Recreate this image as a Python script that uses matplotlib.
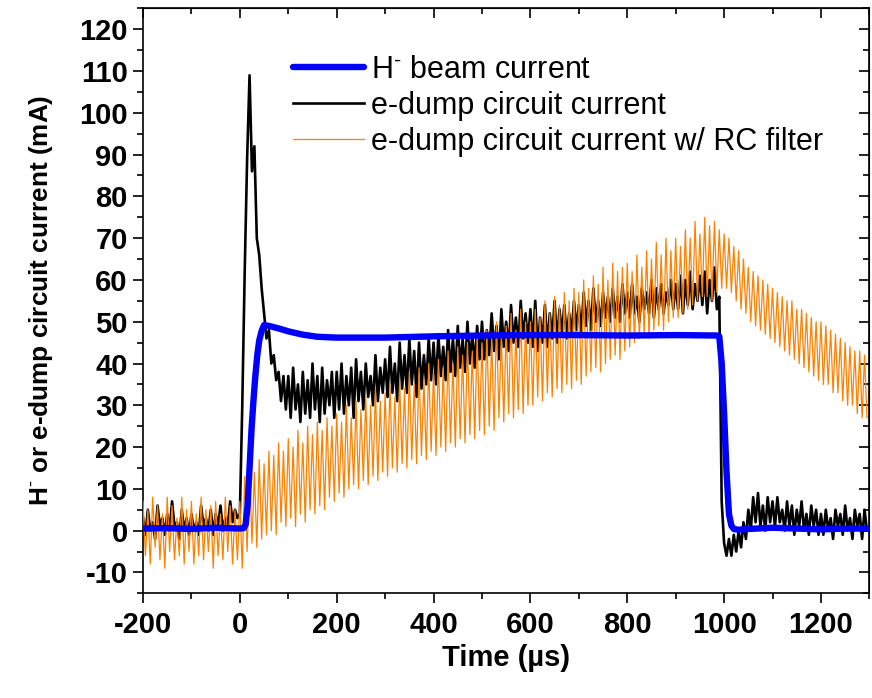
import numpy as np
import matplotlib
matplotlib.use("Agg")
import matplotlib.pyplot as plt
from matplotlib.ticker import MultipleLocator
from matplotlib.lines import Line2D
from matplotlib.font_manager import FontProperties

plt.rcParams["font.family"] = ["Liberation Sans", "DejaVu Sans"]
plt.rcParams["mathtext.fontset"] = "custom"
plt.rcParams["mathtext.rm"] = "Liberation Sans"
plt.rcParams["mathtext.bf"] = "Liberation Sans:bold"
plt.rcParams["axes.unicode_minus"] = False

# ---------------- data ----------------
# H- beam current (mA) vs time (us)
beam_time = [-200, -150, -100, -50, 0, 8, 12, 16, 20, 24, 28, 32, 36, 40, 45, 50,
             60, 80, 100, 130, 160, 200, 250, 300, 400, 500, 600, 700, 800, 900,
             985, 990, 995, 1000, 1005, 1010, 1015, 1020, 1030, 1050, 1100, 1150,
             1200, 1250, 1300]
beam_current = [0.5, 0.6, 0.4, 0.7, 0.5, 0.6, 1.5, 6, 15, 24, 31, 37, 42, 45.5, 47.8, 49.2,
                49.0, 48.4, 47.7, 46.9, 46.4, 46.2, 46.2, 46.2, 46.5, 46.7, 46.8, 46.8, 46.7, 46.8,
                46.7, 46.5, 40, 28, 14, 4, 1.2, 0.4, 0.2, 0.4, 0.7, 0.5,
                0.3, 0.5, 0.5]

# oscilloscope traces sampled every 5 us from -200 us
trace_start, trace_step = -200, 5

# e-dump circuit current (mA)
edump = (
    [3, -1, 5, 0, 2, -2, 6, 1, 3, -1, 4, 0, 7, 1, 2, -2, 5, 0, 3, -1] +
    [4, 0, 2, -1, 6, 1, 3, 0, 5, -1, 4, 1, 6, 0, 3, 1, 7, 2, 5, 3] +
    [4, 30, 62, 89, 109, 86, 92, 70, 66, 58, 52, 46, 48, 40, 42, 36, 38, 31, 37, 29] +
    [37, 27, 39, 29, 35, 26, 38, 28, 36, 27, 40, 29, 37, 26, 39, 28, 36, 30, 38, 27] +
    [38, 29, 40, 28, 37, 30, 39, 27, 41, 31, 38, 29, 40, 32, 37, 30, 42, 31, 39, 33] +
    [41, 32, 44, 33, 40, 31, 45, 34, 42, 33, 46, 35, 43, 32, 45, 34, 42, 35, 46, 36] +
    [45, 35, 47, 37, 44, 36, 48, 38, 46, 37, 49, 39, 46, 38, 50, 40, 47, 39, 49, 41] +
    [50, 41, 48, 42, 52, 43, 49, 41, 53, 44, 50, 43, 54, 45, 51, 44, 55, 46, 52, 45] +
    [53, 44, 55, 43, 51, 45, 54, 44, 52, 46, 55, 45, 53, 47, 54, 46, 52, 47, 55, 48] +
    [54, 47, 57, 49, 55, 48, 58, 50, 55, 49, 57, 51, 56, 50, 58, 51, 56, 50, 59, 52] +
    [57, 51, 59, 52, 56, 50, 58, 53, 57, 52, 60, 51, 58, 53, 59, 52, 57, 54, 60, 53] +
    [59, 53, 61, 52, 60, 54, 62, 53, 59, 55, 61, 54, 62, 52, 60, 55, 63, 53, 56, 7] +
    [-3, -6, -2, -6, -1, -5, 0, -4, 2, -2, 5, 0, 8, 2, 9, 1, 6, 0, 8, 2] +
    [7, 1, 8, 2, 5, 0, 7, 1, 6, -1, 5, 1, 7, 0, 4, -1, 6, 1, 5, -1] +
    [4, -1, 5, 0, 3, -2, 5, 1, 4, -1, 6, 0, 3, -2, 5, 1, 4, -2, 5, 0]
)

# e-dump circuit current with RC filter (mA)
edump_rc = (
    [7, -6, 5, -8, 8, -4, 6, -7, 4, -9, 8, -5, 6, -7, 3, -6, 8, -8, 5, -5] +
    [7, -8, 4, -6, 8, -7, 5, -5, 6, -9, 7, -6, 4, -7, 8, -5, 6, -8, 5, -7] +
    [7, -9, 13, -5, 15, -3, 14, -4, 17, -2, 16, -1, 19, 0, 18, -1, 21, 2, 19, 1] +
    [22, 3, 20, 1, 24, 4, 21, 2, 25, 5, 23, 4, 26, 6, 24, 5, 27, 8, 25, 7] +
    [28, 9, 26, 8, 30, 10, 27, 11, 31, 10, 29, 12, 32, 11, 30, 13, 34, 12, 31, 14] +
    [33, 13, 35, 15, 32, 14, 36, 16, 34, 15, 38, 17, 35, 16, 39, 18, 36, 17, 40, 19] +
    [38, 18, 41, 20, 39, 19, 43, 21, 40, 20, 44, 22, 42, 21, 45, 23, 43, 22, 47, 24] +
    [45, 23, 48, 25, 46, 24, 50, 27, 47, 26, 49, 28, 52, 27, 48, 29, 53, 28, 50, 30] +
    [50, 30, 53, 32, 51, 31, 55, 33, 52, 32, 56, 34, 54, 33, 57, 35, 55, 34, 58, 36] +
    [57, 35, 60, 37, 58, 38, 61, 39, 59, 38, 63, 40, 60, 41, 64, 42, 62, 41, 63, 43] +
    [64, 44, 62, 45, 66, 46, 63, 47, 67, 46, 65, 48, 69, 49, 66, 48, 70, 50, 67, 51] +
    [70, 51, 68, 52, 72, 53, 70, 54, 74, 55, 71, 56, 75, 56, 73, 55, 74, 57, 72, 58] +
    [71, 58, 70, 57, 68, 55, 67, 53, 65, 52, 63, 50, 62, 49, 61, 48, 60, 47, 59, 46] +
    [58, 45, 57, 44, 56, 43, 55, 42, 55, 41, 53, 40, 53, 39, 52, 38, 51, 37, 50, 36] +
    [50, 35, 49, 35, 48, 33, 47, 33, 46, 31, 45, 30, 44, 30, 43, 28, 43, 27, 42, 27]
)

labels = [r"H$^{\text{-}}$ beam current",
          "e-dump circuit current",
          "e-dump circuit current w/ RC filter"]

trace_time = trace_start + trace_step * np.arange(len(edump))

# ---------------- figure ----------------
fig = plt.figure(figsize=(8.72, 6.98), dpi=100)
ax = fig.add_axes([0.164, 0.150, 0.833, 0.838])

blue, black, orange = "#0000FF", "#000000", "#FF8000"

ax.plot(trace_time, edump, color=black, lw=1.9, zorder=2)
ax.plot(trace_time, edump_rc, color=orange, lw=0.9, zorder=3)
ax.plot(beam_time, beam_current, color=blue, lw=4.6, zorder=4,
        solid_capstyle="round", solid_joinstyle="round")

ax.set_xlim(-200, 1300)
ax.set_ylim(-15, 125)

ax.xaxis.set_major_locator(MultipleLocator(200))
ax.xaxis.set_minor_locator(MultipleLocator(100))
ax.yaxis.set_major_locator(MultipleLocator(10))
ax.yaxis.set_minor_locator(MultipleLocator(5))

for sp in ax.spines.values():
    sp.set_linewidth(1.2)

ax.tick_params(which="major", direction="out", length=7, width=1.2, pad=4)
ax.tick_params(which="minor", direction="out", length=4, width=1.2)
ax.tick_params(axis="x", which="major", pad=6)

for lab in ax.get_xticklabels():
    lab.set_fontproperties(FontProperties(family="Liberation Sans", weight="bold", size=21))
for lab in ax.get_yticklabels():
    lab.set_fontproperties(FontProperties(family="Liberation Sans", weight="bold", size=21))

# inward ticks on the top and right edges
top = ax.secondary_xaxis("top")
top.xaxis.set_major_locator(MultipleLocator(200))
top.xaxis.set_minor_locator(MultipleLocator(100))
top.tick_params(which="major", direction="in", length=7, width=1.2, labeltop=False)
top.tick_params(which="minor", direction="in", length=4, width=1.2)
right = ax.secondary_yaxis("right")
right.yaxis.set_major_locator(MultipleLocator(10))
right.yaxis.set_minor_locator(MultipleLocator(5))
right.tick_params(which="major", direction="in", length=7, width=1.2, labelright=False)
right.tick_params(which="minor", direction="in", length=4, width=1.2)

ax.set_xlabel("Time (µs)", weight="bold", size=21, labelpad=3)
ax.set_ylabel(r"H$^{\text{-}}$ or e-dump circuit current (mA)",
              weight="bold", size=18.8, labelpad=17)

handles = [Line2D([], [], color=blue, lw=4.6, solid_capstyle="round"),
           Line2D([], [], color=black, lw=1.9),
           Line2D([], [], color=orange, lw=0.9)]
ax.legend(handles, labels, loc="upper left", bbox_to_anchor=(0.207, 0.921),
          frameon=False, fontsize=22, handlelength=2.3, handletextpad=0.25,
          labelspacing=0.2, borderpad=0, borderaxespad=0)

fig.savefig("out.png", dpi=100)
